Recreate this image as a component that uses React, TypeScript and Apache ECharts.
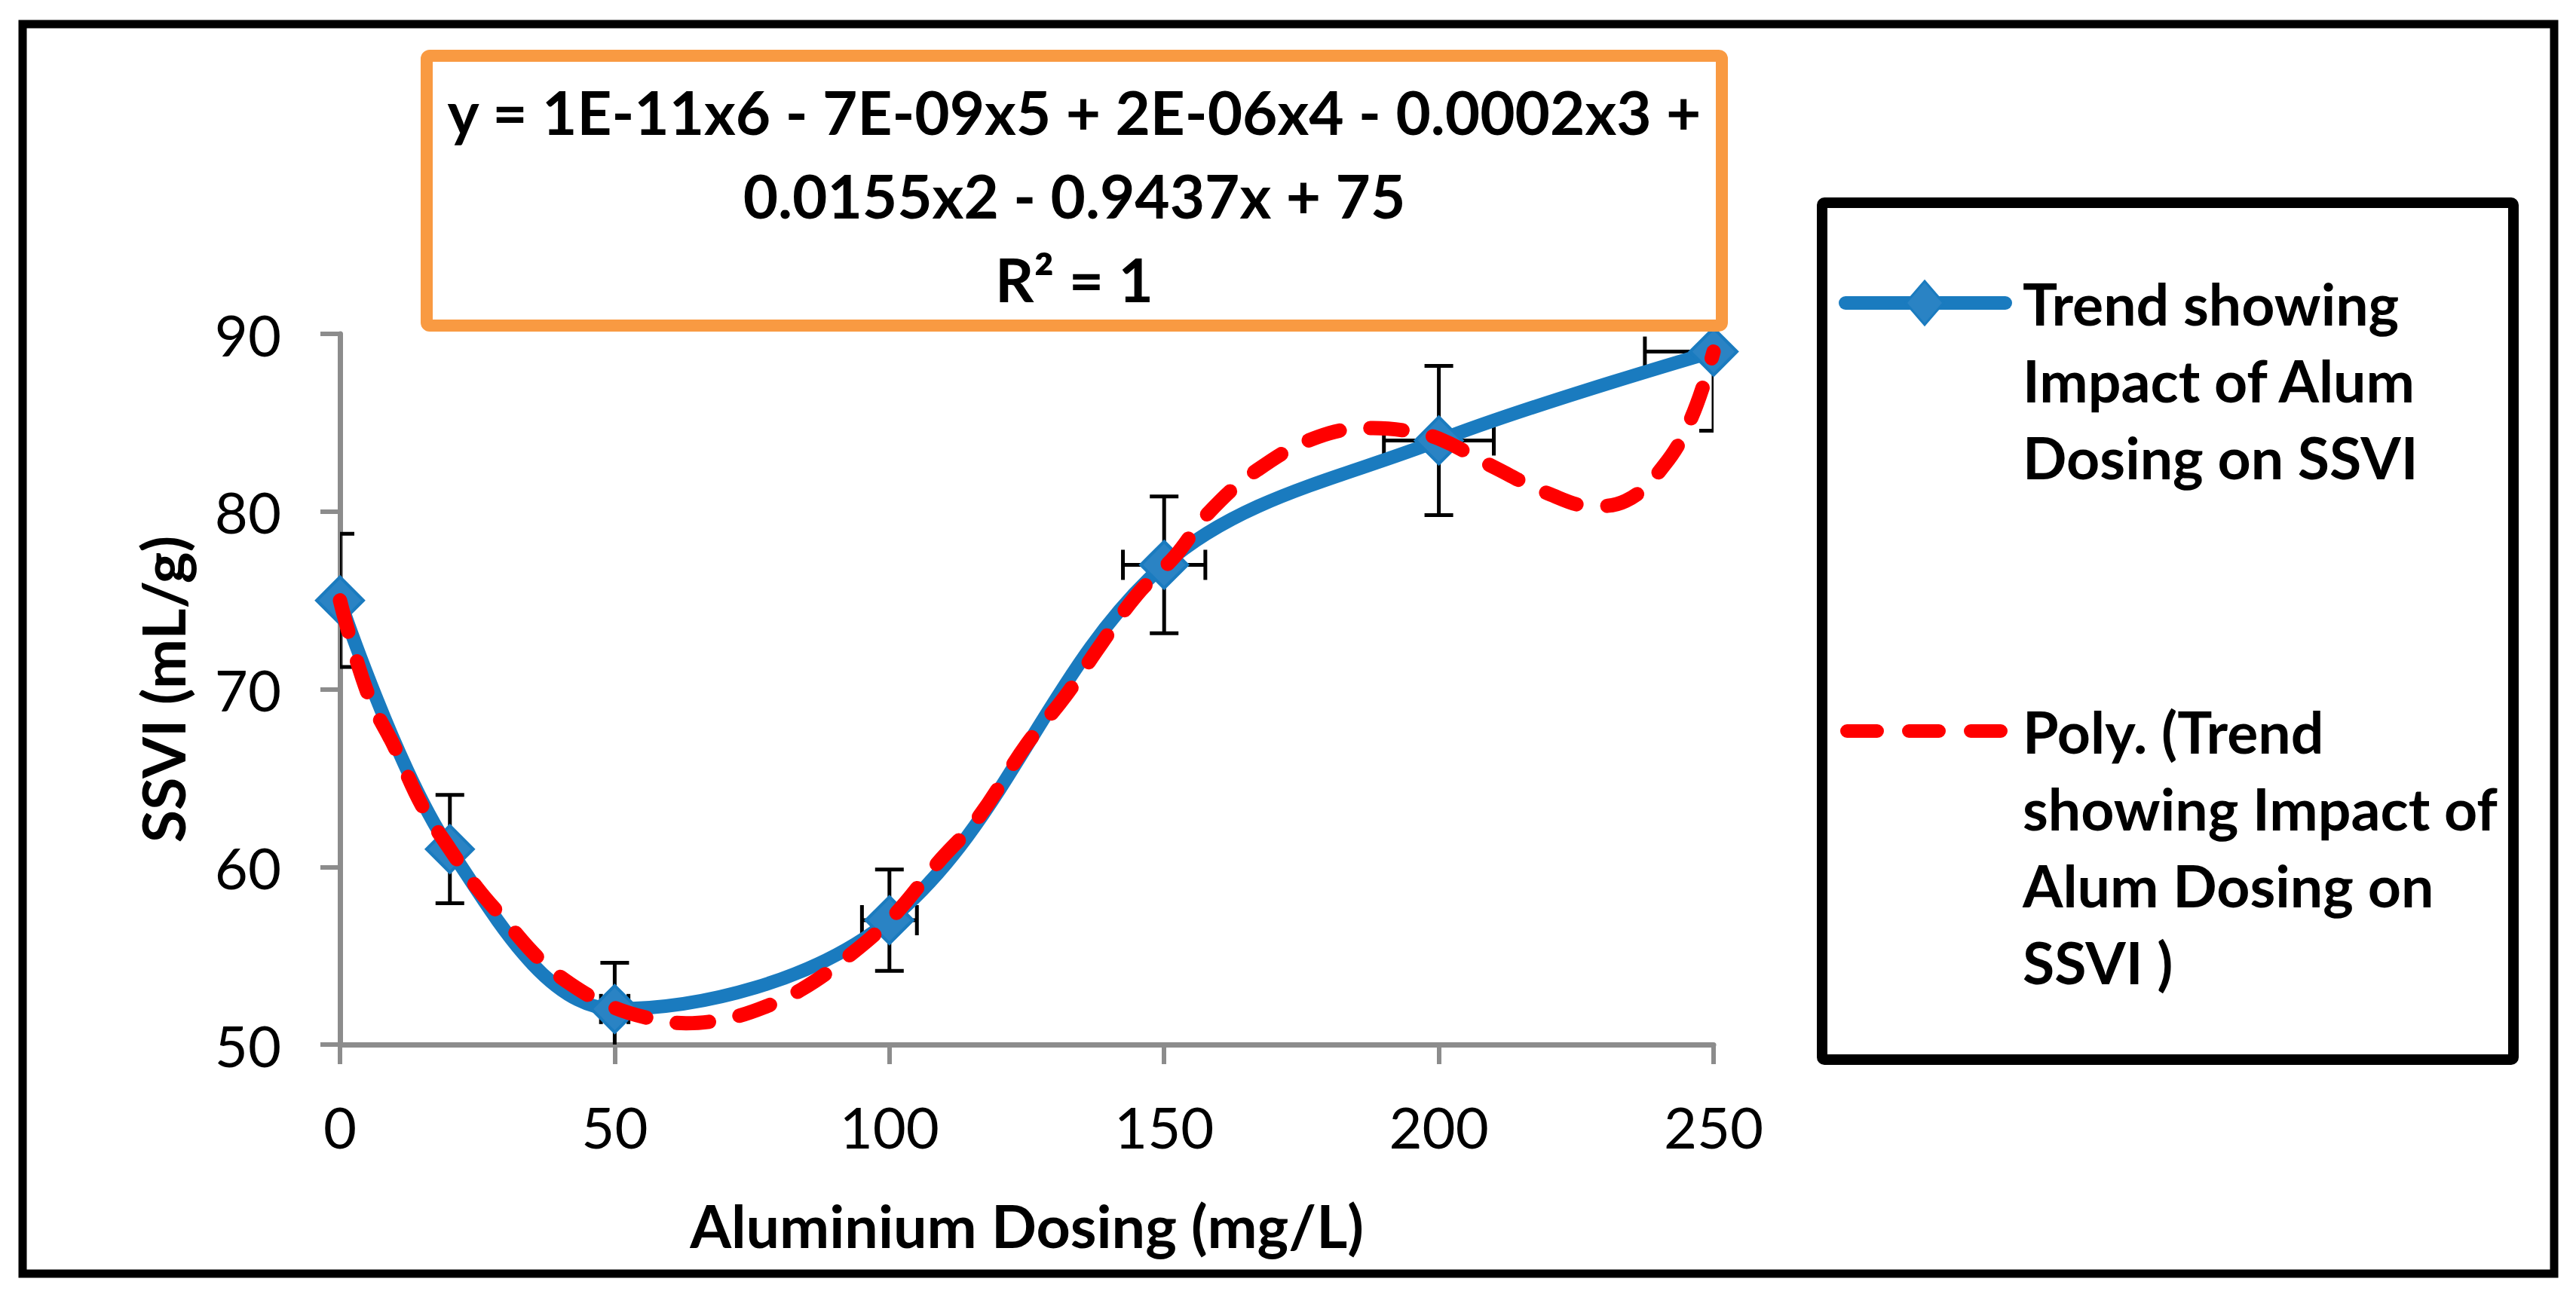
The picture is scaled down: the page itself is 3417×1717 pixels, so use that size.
import React, { useEffect, useRef } from "react";
import * as echarts from "echarts";

// Measured data (Aluminium dosing vs SSVI)
const doseX = [0, 20, 50, 100, 150, 200, 250];
const ssviY = [75, 61, 52, 57, 77, 84, 89];
const yErr = [3.75, 3.05, 2.6, 2.85, 3.85, 4.2, 4.45];
const xErr = [0, 1, 2.5, 5, 7.5, 10, 12.5];

// Polynomial trendline
const polyX = [0, 5, 10, 15, 20, 25, 30, 36, 42, 49, 56, 63, 71, 78, 84, 91, 100, 109, 116, 125, 132, 138, 145, 152, 158, 167, 178, 188, 194, 200, 210, 220, 228, 234, 241, 246, 250];
const polyY = [75, 69.8, 66.7, 63.4, 61, 58.8, 57.0, 54.9, 53.4, 52.2, 51.5, 51.2, 51.5, 52.2, 53.1, 54.6, 57, 60.3, 62.7, 66.9, 69.6, 72.3, 75.3, 77.5, 79.9, 82.35, 84.2, 84.7, 84.55, 84.1, 82.5, 81.0, 80.3, 80.6, 82.6, 85.3, 89];

const equationLines = ["y = 1E-11x6 - 7E-09x5 + 2E-06x4 - 0.0002x3 +", "0.0155x2 - 0.9437x + 75", "R² = 1"];
const legendTrend = ["Trend showing", "Impact of Alum", "Dosing on SSVI"];
const legendPoly = ["Poly. (Trend", "showing Impact of", "Alum Dosing on", "SSVI )"];
const xTitle = "Aluminium Dosing (mg/L)";
const yTitle = "SSVI (mL/g)";

const FONT = "Lato, 'Open Sans', 'Noto Sans', sans-serif";
const BLUE = "#1a7bbf";
const MARKER = "#2a83c4";
const RED = "#ff0000";
const ORANGE = "#f99a42";
const AXIS = "#8c8c8c";

export default function App() {
  const ref = useRef<HTMLDivElement>(null);
  useEffect(() => {
    document.body.style.margin = "0";
    const chart = echarts.init(ref.current!, null, { renderer: "svg" });

    const errData = doseX.map((x, i) => [x, ssviY[i], xErr[i], yErr[i]]);
    const lineStyleErr = { stroke: "#000", lineWidth: 5 };

    const graphics: any[] = [];
    // outer frame
    graphics.push({ type: "rect", shape: { x: 30, y: 32, width: 3358, height: 1658 }, style: { fill: "none", stroke: "#000", lineWidth: 11 }, z: 1 });
    // equation box
    graphics.push({ type: "rect", shape: { x: 566, y: 74, width: 1718, height: 358, r: 4 }, style: { fill: "#fff", stroke: ORANGE, lineWidth: 16 }, z: 10 });
    const eqY = [148, 259, 370];
    equationLines.forEach((t, i) => {
      graphics.push({ type: "text", z: 11, style: { text: t, x: 1425, y: eqY[i], font: `bold 80px ${FONT}`, fill: "#000", align: "center", verticalAlign: "middle", textAlign: "center", textVerticalAlign: "middle" } });
    });
    // legend box
    graphics.push({ type: "rect", shape: { x: 2417, y: 269, width: 917, height: 1137, r: 3 }, style: { fill: "#fff", stroke: "#000", lineWidth: 14 }, z: 10 });
    // legend blue sample
    graphics.push({ type: "line", z: 11, shape: { x1: 2448, y1: 402, x2: 2660, y2: 402 }, style: { stroke: BLUE, lineWidth: 18, lineCap: "round" } });
    graphics.push({ type: "polygon", z: 12, shape: { points: [[2553, 373], [2578, 402], [2553, 431], [2528, 402]] }, style: { fill: MARKER, stroke: BLUE, lineWidth: 3 } });
    // legend red sample
    graphics.push({ type: "line", z: 11, shape: { x1: 2450, y1: 970, x2: 2658, y2: 970 }, style: { stroke: RED, lineWidth: 18, lineCap: "round", lineDash: [40, 42] } });
    legendTrend.forEach((t, i) => {
      graphics.push({ type: "text", z: 11, style: { text: t, x: 2683, y: 402 + i * 102, font: `bold 77px ${FONT}`, fill: "#000", align: "left", verticalAlign: "middle", textAlign: "left", textVerticalAlign: "middle" } });
    });
    legendPoly.forEach((t, i) => {
      graphics.push({ type: "text", z: 11, style: { text: t, x: 2683, y: 970 + i * 102, font: `bold 77px ${FONT}`, fill: "#000", align: "left", verticalAlign: "middle", textAlign: "left", textVerticalAlign: "middle" } });
    });

    chart.setOption({
      animation: false,
      backgroundColor: "#fff",
      grid: { left: 451, right: 3417 - 2273, top: 443, bottom: 1717 - 1386, containLabel: false },
      xAxis: {
        type: "value", min: 0, max: 250, interval: 50,
        axisLine: { show: true, onZero: false, lineStyle: { color: AXIS, width: 7 } },
        axisTick: { show: true, length: 26, lineStyle: { color: AXIS, width: 6 } },
        splitLine: { show: false },
        axisLabel: { fontSize: 76, fontFamily: FONT, color: "#000", margin: 70 },
        name: xTitle, nameLocation: "middle", nameGap: 200,
        nameTextStyle: { fontSize: 79, fontWeight: "bold", fontFamily: FONT, color: "#000" },
      },
      yAxis: {
        type: "value", min: 50, max: 90, interval: 10,
        axisLine: { show: true, onZero: false, lineStyle: { color: AXIS, width: 7 } },
        axisTick: { show: true, length: 26, lineStyle: { color: AXIS, width: 6 } },
        splitLine: { show: false },
        axisLabel: { fontSize: 76, fontFamily: FONT, color: "#000", margin: 78 },
        name: yTitle, nameLocation: "middle", nameGap: 196,
        nameTextStyle: { fontSize: 79, fontWeight: "bold", fontFamily: FONT, color: "#000" },
      },
      graphic: graphics,
      series: [
        {
          type: "custom", clip: true, z: 2,
          encode: { x: 0, y: 1 },
          data: errData,
          renderItem: (params: any, api: any) => {
            const x = api.value(0), y = api.value(1), ex = api.value(2), ey = api.value(3);
            const top = api.coord([x, y + ey]);
            const bot = api.coord([x, y - ey]);
            const cap = 19, hcap = 20;
            const children: any[] = [
              { type: "line", shape: { x1: top[0], y1: top[1], x2: bot[0], y2: bot[1] }, style: lineStyleErr },
              { type: "line", shape: { x1: top[0] - cap, y1: top[1], x2: top[0] + cap, y2: top[1] }, style: lineStyleErr },
              { type: "line", shape: { x1: bot[0] - cap, y1: bot[1], x2: bot[0] + cap, y2: bot[1] }, style: lineStyleErr },
            ];
            if (ex > 0) {
              const l = api.coord([x - ex, y]);
              const r = api.coord([x + ex, y]);
              children.push({ type: "line", shape: { x1: l[0], y1: l[1], x2: r[0], y2: r[1] }, style: lineStyleErr });
              children.push({ type: "line", shape: { x1: l[0], y1: l[1] - hcap, x2: l[0], y2: l[1] + hcap }, style: lineStyleErr });
              children.push({ type: "line", shape: { x1: r[0], y1: r[1] - hcap, x2: r[0], y2: r[1] + hcap }, style: lineStyleErr });
            }
            return { type: "group", children };
          },
        },
        {
          type: "line", z: 3, name: "Trend showing Impact of Alum Dosing on SSVI",
          data: doseX.map((x, i) => [x, ssviY[i]]),
          smooth: 0.35,
          symbol: "diamond", symbolSize: 62,
          lineStyle: { color: BLUE, width: 18 },
          itemStyle: { color: MARKER, borderColor: BLUE, borderWidth: 4 },
        },
        {
          type: "line", z: 4, name: "Poly. (Trend showing Impact of Alum Dosing on SSVI )",
          data: polyX.map((x, i) => [x, polyY[i]]),
          smooth: 0.4, symbol: "none", showSymbol: false,
          lineStyle: { color: RED, width: 19, type: [43, 41], cap: "round" },
        },
      ],
    });
    return () => chart.dispose();
  }, []);
  return <div ref={ref} style={{ width: 3417, height: 1717 }} />;
}
